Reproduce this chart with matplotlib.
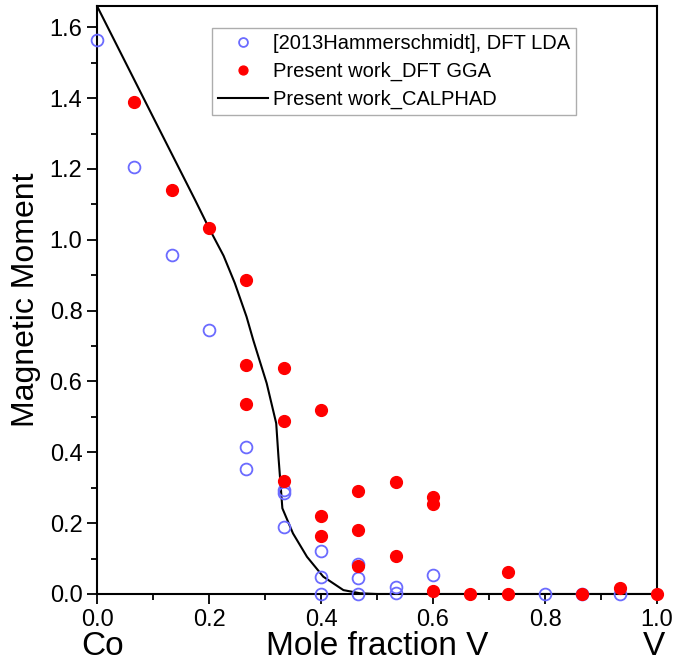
import numpy as np
import matplotlib.pyplot as plt
from matplotlib.ticker import MultipleLocator

plt.rcParams['font.family'] = ['Liberation Sans', 'DejaVu Sans']

# [2013Hammerschmidt], DFT LDA
x_lda = [0.0, 0.0667, 0.1333, 0.2, 0.2667, 0.2667, 0.3333, 0.3333, 0.3333,
         0.4, 0.4, 0.4, 0.4667, 0.4667, 0.4667, 0.5333, 0.5333, 0.6,
         0.8, 0.8667, 0.9333]
y_lda = [1.565, 1.206, 0.958, 0.746, 0.415, 0.353, 0.294, 0.285, 0.189,
         0.122, 0.049, 0.0, 0.085, 0.046, 0.0, 0.021, 0.003, 0.054,
         0.0, 0.0, 0.0]

# Present work, DFT GGA
x_gga = [0.0667, 0.1333, 0.2, 0.2667, 0.2667, 0.2667, 0.3333, 0.3333, 0.3333,
         0.4, 0.4, 0.4, 0.4667, 0.4667, 0.4667, 0.5333, 0.5333,
         0.6, 0.6, 0.6, 0.6667, 0.7333, 0.7333, 0.8667, 0.9333, 1.0]
y_gga = [1.39, 1.141, 1.034, 0.887, 0.647, 0.537, 0.637, 0.487, 0.319,
         0.52, 0.221, 0.163, 0.291, 0.181, 0.08, 0.315, 0.107,
         0.273, 0.255, 0.009, 0.0, 0.061, 0.0, 0.0, 0.017, 0.0]

# Present work, CALPHAD
x_cal = [0.0, 0.1, 0.175, 0.2, 0.226, 0.246, 0.267, 0.279, 0.29, 0.303,
         0.32, 0.324, 0.331, 0.35, 0.375, 0.404, 0.44, 0.47, 0.5, 1.0]
y_cal = [1.66, 1.347, 1.113, 1.033, 0.955, 0.878, 0.783, 0.717, 0.661, 0.595,
         0.482, 0.388, 0.242, 0.171, 0.105, 0.049, 0.011, 0.002, 0.0, 0.0]

fig = plt.figure(figsize=(6.75, 6.64), dpi=100)
ax = fig.add_axes([97/675, 70/664, 560/675, 588/664])

ax.plot(x_lda, y_lda, 'o', mfc='none', mec='#6b6bff', mew=1.3, ms=8.5,
        label='[2013Hammerschmidt], DFT LDA', clip_on=False, zorder=3)
ax.plot(x_gga, y_gga, 'o', color='red', ms=8.5,
        label='Present work_DFT GGA', clip_on=False, zorder=4)
ax.plot(x_cal, y_cal, '-', color='black', lw=1.5,
        label='Present work_CALPHAD', zorder=2)

ax.set_xlim(0, 1.0)
ax.set_ylim(0, 1.66)
ax.xaxis.set_major_locator(MultipleLocator(0.2))
ax.xaxis.set_minor_locator(MultipleLocator(0.1))
ax.yaxis.set_major_locator(MultipleLocator(0.2))
ax.yaxis.set_minor_locator(MultipleLocator(0.1))
ax.tick_params(which='both', direction='out', top=False, right=False,
               width=1.3, labelsize=17)
ax.tick_params(which='major', length=7)
ax.tick_params(which='minor', length=4)
for s in ax.spines.values():
    s.set_linewidth(1.5)

ax.set_ylabel('Magnetic Moment', fontsize=23, labelpad=6)
ax.set_xlabel('Mole fraction V', fontsize=24, labelpad=0)
# element labels at both ends of the composition axis
ax.text(0.01, -0.104, 'Co', transform=ax.transAxes, fontsize=24,
        ha='center', va='baseline')
ax.text(0.995, -0.104, 'V', transform=ax.transAxes, fontsize=24,
        ha='center', va='baseline')

leg = ax.legend(loc='upper left', bbox_to_anchor=(0.205, 0.962), fontsize=14.5,
                fancybox=False, edgecolor='#999999', handlelength=2.5,
                handletextpad=0.25, borderpad=0.3, labelspacing=0.42,
                borderaxespad=0, markerscale=0.75)
leg.get_frame().set_linewidth(1.0)

fig.savefig('out.png', dpi=100)
